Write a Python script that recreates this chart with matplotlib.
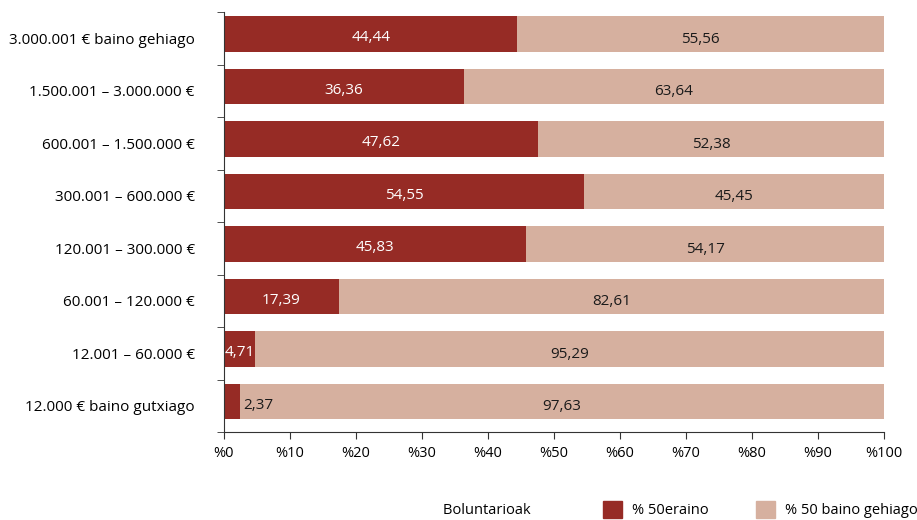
import matplotlib
matplotlib.use("Agg")
import matplotlib.pyplot as plt
import numpy as np
from matplotlib.patches import Rectangle

plt.rcParams['font.family'] = ['Open Sans', 'DejaVu Sans']

categories = [
    "3.000.001 € baino gehiago",
    "1.500.001 – 3.000.000 €",
    "600.001 – 1.500.000 €",
    "300.001 – 600.000 €",
    "120.001 – 300.000 €",
    "60.001 – 120.000 €",
    "12.001 – 60.000 €",
    "12.000 € baino gutxiago",
]
upto50 = [44.44, 36.36, 47.62, 54.55, 45.83, 17.39, 4.71, 2.37]
over50 = [55.56, 63.64, 52.38, 45.45, 54.17, 82.61, 95.29, 97.63]
xticklabels = ["%0", "%10", "%20", "%30", "%40", "%50", "%60", "%70", "%80", "%90", "%100"]
legend_title = "Boluntarioak"
series_names = ["% 50eraino", "% 50 baino gehiago"]

dark = "#962B25"
light = "#D6B09F"

fig = plt.figure(figsize=(9.17, 5.2), dpi=100)
ax = fig.add_axes([224/917, 1-432/520, (884-224)/917, 420/520])

n = len(categories)
y = np.arange(n)[::-1] + 0.08
ax.barh(y, upto50, height=0.67, color=dark)
ax.barh(y, over50, left=upto50, height=0.67, color=light)

fmt = lambda v: f"{v:.2f}".replace(".", ",")
for yi, a, b in zip(y, upto50, over50):
    ty = yi - 0.07
    if a < 4:
        ax.text(a + 0.6, ty, fmt(a), ha="left", va="center", color="#1a1a1a", fontsize=11)
    else:
        ax.text(a / 2, ty, fmt(a), ha="center", va="center", color="white", fontsize=11)
    ax.text(a + b / 2, ty - 0.03, fmt(b), ha="center", va="center", color="#1a1a1a", fontsize=11)

ax.set_xlim(0, 100)
ax.set_ylim(-0.5, n - 0.5)
ax.set_xticks(np.arange(0, 101, 10))
ax.set_xticklabels(xticklabels, fontsize=10.5)
ax.set_yticks(np.arange(n)[::-1])
ax.set_yticklabels(categories, fontsize=11)
ax.tick_params(axis="y", length=0, pad=21)
ax.set_yticks(np.arange(n + 1) - 0.5, minor=True)
ax.tick_params(axis="y", which="minor", length=5, color="#333333")
ax.tick_params(axis="x", length=5, color="#333333", pad=5)
for s in ["top", "right"]:
    ax.spines[s].set_visible(False)
ax.spines["left"].set_color("#333333")
ax.spines["bottom"].set_color("#333333")

handles = [Rectangle((0, 0), 1, 1, alpha=0),
           Rectangle((0, 0), 1, 1, color=dark),
           Rectangle((0, 0), 1, 1, color=light)]
fig.legend(handles, [legend_title + "\u00a0" * 7] + series_names, ncol=3, frameon=False,
           loc="lower right", bbox_to_anchor=(1.015, -0.022), fontsize=10.5,
           handlelength=1.3, handleheight=1.4, columnspacing=3.2, handletextpad=0.7)

fig.savefig("out.png", dpi=100)
